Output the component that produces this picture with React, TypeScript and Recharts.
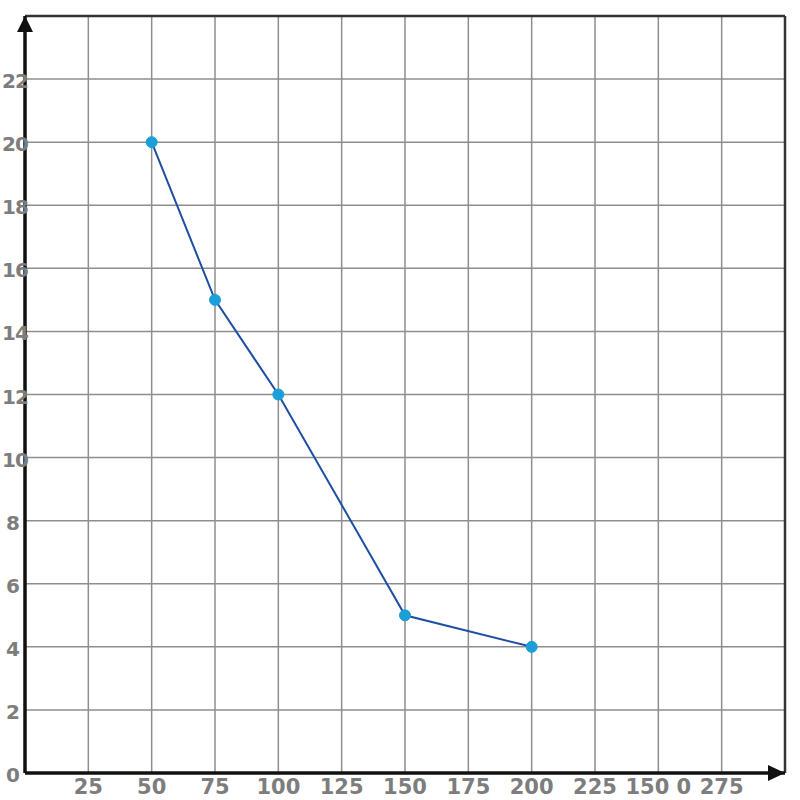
import { LineChart, Line, XAxis, YAxis, CartesianGrid, ReferenceLine, ReferenceDot } from "recharts"

// x is the quantity axis (0-300 step 25), y runs 0-24 step 2
const xValues = [50, 75, 100, 150, 200]
const yValues = [20, 15, 12, 5, 4]

const xTicks = [0, 25, 50, 75, 100, 125, 150, 175, 200, 225, 250, 275, 300]
const yTicks = [0, 2, 4, 6, 8, 10, 12, 14, 16, 18, 20, 22, 24]

// labels as written on the sheet (the 250 mark reads "150 0")
const xTickLabels = ["", "25", "50", "75", "100", "125", "150", "175", "200", "225", "150 0", "275", ""]
const yTickLabels = ["0", "2", "4", "6", "8", "10", "12", "14", "16", "18", "20", "22", ""]

const data = xValues.map((x, i) => ({ x, y: yValues[i] }))

const LABEL_GRAY = "#7d7d7d"
const LINE_BLUE = "#1f4fa3"
const DOT_BLUE = "#1b9fd8"
const FONT = "'DejaVu Sans', sans-serif"

function XTick({ x, y, payload }: any) {
  const label = xTickLabels[xTicks.indexOf(payload.value)]
  if (!label) return null
  return (
    <text x={x} y={y + 13} textAnchor="middle" fill={LABEL_GRAY} fontFamily={FONT} fontWeight={700} fontSize={21}>
      {label}
    </text>
  )
}

function YTick({ y, payload }: any) {
  const label = yTickLabels[yTicks.indexOf(payload.value)]
  if (!label) return null
  return (
    <text
      x={label.length > 1 ? 2 : 6}
      y={y + 9}
      textAnchor="start"
      fill={LABEL_GRAY}
      fontFamily={FONT}
      fontWeight={700}
      fontSize={20}
      letterSpacing={-1}
    >
      {label}
    </text>
  )
}

function UpArrow({ cx, cy }: any) {
  return <path d={`M${cx},${cy} L${cx - 8},${cy + 16} L${cx + 8},${cy + 16} Z`} fill="#111" />
}

function RightArrow({ cx, cy }: any) {
  return <path d={`M${cx},${cy} L${cx - 17},${cy - 8} L${cx - 17},${cy + 8} Z`} fill="#111" />
}

export default function App() {
  return (
    <div style={{ position: "absolute", left: 0, top: 0, width: 800, height: 800, background: "#fff" }}>
      <LineChart width={800} height={800} data={data} margin={{ top: 16, right: 15, bottom: 0, left: 0 }}>
        <CartesianGrid stroke="#8e8e8e" strokeWidth={1.5} horizontalValues={yTicks} verticalValues={xTicks} />
        <XAxis
          dataKey="x"
          type="number"
          domain={[0, 300]}
          ticks={xTicks}
          interval={0}
          height={27}
          axisLine={{ stroke: "#111", strokeWidth: 3.5 }}
          tickLine={false}
          tick={<XTick />}
        />
        <YAxis
          type="number"
          domain={[0, 24]}
          ticks={yTicks}
          interval={0}
          width={25}
          axisLine={{ stroke: "#111", strokeWidth: 3.5 }}
          tickLine={false}
          tick={<YTick />}
        />
        <ReferenceLine y={24} stroke="#333" strokeWidth={2.5} />
        <ReferenceLine x={300} stroke="#333" strokeWidth={2.5} />
        <Line
          type="linear"
          dataKey="y"
          stroke={LINE_BLUE}
          strokeWidth={2}
          dot={{ r: 5.5, fill: DOT_BLUE, stroke: DOT_BLUE, strokeWidth: 1 }}
          activeDot={false}
          isAnimationActive={false}
        />
        <ReferenceDot x={0} y={24} r={0} shape={<UpArrow />} />
        <ReferenceDot x={300} y={0} r={0} shape={<RightArrow />} />
      </LineChart>
    </div>
  )
}
